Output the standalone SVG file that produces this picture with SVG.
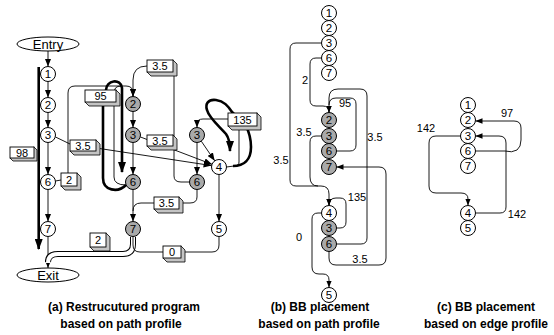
<svg xmlns="http://www.w3.org/2000/svg" width="554" height="335" viewBox="0 0 554 335">
<defs>
<marker id="ah" viewBox="0 0 8 6.5" refX="8" refY="3.25" markerWidth="8" markerHeight="6.5" markerUnits="userSpaceOnUse" orient="auto"><path d="M0,0 L8,3.25 L0,6.5 z" fill="#000"/></marker>
<marker id="ahs" viewBox="0 0 7 5.5" refX="7" refY="2.75" markerWidth="7" markerHeight="5.5" markerUnits="userSpaceOnUse" orient="auto"><path d="M0,0 L7,2.75 L0,5.5 z" fill="#000"/></marker>
<marker id="ahb" viewBox="0 0 11 8" refX="10" refY="4" markerWidth="11" markerHeight="8" markerUnits="userSpaceOnUse" orient="auto"><path d="M0,0 L11,4 L0,8 z" fill="#000"/></marker>
</defs>
<style>
text { font-family: "Liberation Sans", Arial, Helvetica, sans-serif; fill: #000; }
.lbl { font-size: 11px; text-anchor: middle; }
.cap { font-size: 12px; font-weight: bold; text-anchor: middle; }
.term ellipse { fill: #fff; stroke: #000; stroke-width: 1; }
.term text { font-size: 13px; text-anchor: middle; }
.nd circle { fill: #fff; stroke: #000; stroke-width: 1; }
.nd.gray circle { fill: #a9a9a9; }
.nd text { font-size: 11.5px; text-anchor: middle; }
.e { fill: none; stroke: #000; stroke-width: 0.9; }
.arr { marker-end: url(#ah); }
.arrs { marker-end: url(#ahs); }
.hot { fill: none; stroke: #000; stroke-width: 2.6; marker-end: url(#ahb); }
.dbl-out { fill: none; stroke: #000; stroke-width: 6; }
.dbl-in { fill: none; stroke: #fff; stroke-width: 4; }
.box .ext { fill: #c4c4c4; stroke: #000; stroke-width: 0.8; stroke-linejoin: round; }
.box .face { fill: #fff; stroke: #000; stroke-width: 0.9; }
.box text { font-size: 11px; text-anchor: middle; }
</style>

<rect width="554" height="335" fill="#fff"/>

<!-- ===== (a) restructured program: connectors ===== -->
<g id="a-edges">
  <path class="e arr" d="M48,51 L48,66.5"/>
  <path class="e arr" d="M48,81.5 L48,97.5"/>
  <path class="e arr" d="M48,112.5 L48,127.5"/>
  <path class="e arr" d="M48,142.5 L48,174.5"/>
  <path class="e arr" d="M48,189.5 L48,221.5"/>
  <path class="e arr" d="M48,236.5 L48,268"/>
  <!-- double edge 7 -> Exit -->
  <path class="dbl-out" d="M133,237 L133,244 Q133,254 123,254 L58,254 Q48,254 48,262"/>
  <path class="dbl-in" d="M133,236 L133,244 Q133,254 123,254 L58,254 Q48,254 48,263"/>
  <!-- gray column -->
  <path class="e arr" d="M133,111.5 L133,127.5"/>
  <path class="e arr" d="M133,142.5 L133,174.5"/>
  <path class="e arr" d="M133,189.5 L133,221.5"/>
  <path class="e arr" d="M197,142.5 L197,174.5"/>
  <path class="e arr" d="M219,174.5 L219,221.5"/>
  <!-- into node 4 -->
  <path class="e arr" d="M55.5,137 L70,144 L211.6,165.6"/>
  <path class="e arr" d="M140.5,137 L212,164.3"/>
  <path class="e arr" d="M201.3,141.2 L214.7,160.8"/>
  <!-- back edges into gray 2 -->
  <path class="e" d="M55.5,181 L61,180"/>
  <path class="e arr" d="M68,173 L68,93 Q68,86 75,86 L126,86 Q133,86 133,93 L133,96.5"/>
  <path class="e arr" d="M147,66 Q133,66 133,80 L133,96.5"/>
  <path class="e" d="M126,185 Q114,185 114,177 L114,93 Q114,86 121,86"/>
  <path class="e" d="M174,76 L174,176 Q174,182 181,182 L189.5,182"/>
  <!-- 135 loop -->
  <path class="e arr" d="M228,119 L203,119 Q197,119 197,124 L197,127.5"/>
  <path class="e" d="M239,130 L239,162 Q239,166 234,166 L226.5,167"/>
  <!-- lower edges -->
  <path class="e" d="M197,189.5 L197,197 Q197,203 190,203 L141,203 Q133,203 133,211"/>
  <path class="e" d="M219,236.5 L219,245 Q219,252 212,252 L140,252 Q133,252 133,245 L133,236.5"/>
  <!-- hot path traces -->
  <path class="hot" d="M106,90 C106,80 121,78 122,88 L122,172"/>
  <path class="hot" style="marker-end:none" d="M103,102 L103,178 C103,191 118,193 126,185"/>
  <path class="hot" d="M233,166 C244,166 251,160 251,147 C251,138 249,132 246,126 L232,112 C228,106 224,101 216,100 C208,99 205,104 207,110 C209,118 220,127 226,134 C229,138 230,143 230,151"/>
</g>

<!-- ===== (a) nodes ===== -->
<g id="a-entry" class="term"><ellipse cx="48" cy="44" rx="31" ry="7"/><text x="48" y="48.5">Entry</text></g>
<g id="a-exit" class="term"><ellipse cx="48" cy="275" rx="31" ry="7"/><text x="48" y="279.5">Exit</text></g>
<g id="a-n1" class="nd"><circle cx="48" cy="74" r="7.5"/><text x="48" y="78">1</text></g>
<g id="a-n2" class="nd"><circle cx="48" cy="105" r="7.5"/><text x="48" y="109">2</text></g>
<g id="a-n3" class="nd"><circle cx="48" cy="135" r="7.5"/><text x="48" y="139">3</text></g>
<g id="a-n6" class="nd"><circle cx="48" cy="182" r="7.5"/><text x="48" y="186">6</text></g>
<g id="a-n7" class="nd"><circle cx="48" cy="229" r="7.5"/><text x="48" y="233">7</text></g>
<g id="a-g2" class="nd gray"><circle cx="133" cy="104" r="7.5"/><text x="133" y="108">2</text></g>
<g id="a-g3" class="nd gray"><circle cx="133" cy="135" r="7.5"/><text x="133" y="139">3</text></g>
<g id="a-g6" class="nd gray"><circle cx="133" cy="182" r="7.5"/><text x="133" y="186">6</text></g>
<g id="a-g7" class="nd gray"><circle cx="133" cy="229" r="7.5"/><text x="133" y="233">7</text></g>
<g id="a-g3b" class="nd gray"><circle cx="197" cy="135" r="7.5"/><text x="197" y="139">3</text></g>
<g id="a-g6b" class="nd gray"><circle cx="197" cy="182" r="7.5"/><text x="197" y="186">6</text></g>
<g id="a-n4" class="nd"><circle cx="219" cy="167" r="7.5"/><text x="219" y="171">4</text></g>
<g id="a-n5" class="nd"><circle cx="219" cy="229" r="7.5"/><text x="219" y="233">5</text></g>

<!-- ===== (a) edge-count boxes ===== -->
<g id="box-98" class="box"><polygon class="ext" points="34,147 37,150 37,161 13,161 10,158"/><rect class="face" x="10" y="147" width="24" height="11"/><text x="22" y="156.5">98</text></g>
<g id="box-35a" class="box"><polygon class="ext" points="96,140 100,144 100,155 74,155 70,151"/><rect class="face" x="70" y="140" width="26" height="11"/><text x="83" y="149.5">3.5</text></g>
<g id="box-2a" class="box"><polygon class="ext" points="77,173 81,177 81,190 65,190 61,186"/><rect class="face" x="61" y="173" width="16" height="13"/><text x="69" y="183.5">2</text></g>
<g id="box-95" class="box"><polygon class="ext" points="116,90 120,94 120,106 89,106 85,102"/><rect class="face" x="85" y="90" width="31" height="12"/><text x="100.5" y="100">95</text></g>
<g id="box-35b" class="box"><polygon class="ext" points="173,60 177,64 177,76 151,76 147,72"/><rect class="face" x="147" y="60" width="26" height="12"/><text x="160" y="70">3.5</text></g>
<g id="box-35c" class="box"><polygon class="ext" points="173,135 177,139 177,150 151,150 147,146"/><rect class="face" x="147" y="135" width="26" height="11"/><text x="160" y="144.5">3.5</text></g>
<g id="box-135" class="box"><polygon class="ext" points="257,113 261,117 261,130 232,130 228,126"/><rect class="face" x="228" y="113" width="29" height="13"/><text x="242.5" y="123.5">135</text></g>
<g id="box-35d" class="box"><polygon class="ext" points="179,197 183,201 183,213 158,213 154,209"/><rect class="face" x="154" y="197" width="25" height="12"/><text x="166.5" y="207">3.5</text></g>
<g id="box-2b" class="box"><polygon class="ext" points="106,233 110,237 110,251 94,251 90,247"/><rect class="face" x="90" y="233" width="16" height="14"/><text x="98" y="244">2</text></g>
<g id="box-0" class="box"><polygon class="ext" points="181,246 185,250 185,262 167,262 163,258"/><rect class="face" x="163" y="246" width="18" height="12"/><text x="172" y="256">0</text></g>

<!-- main hot path 1-2-3-6-7-Exit -->
<path class="hot" d="M38.7,67 L38.7,249"/>

<!-- ===== (b) placement from path profile ===== -->
<g id="b-edges">
  <path class="e arrs" d="M321.5,43 L296,43 Q290,43 290,49 L290,180 Q290,186 296,186 L321,186 Q329,186 329,194 L329,205.5"/>
  <path class="e" d="M321.5,136 L316,136 Q310,136 310,142 L310,177 Q310,186 318,186"/>
  <path class="e arrs" d="M321.5,58 L316,58 Q310,58 310,64 L310,100 Q310,106 316,106 L323,106 Q329,106 329,112.5"/>
  <path class="e" d="M336.5,151 L350,151 Q356,151 356,145 L356,104 Q356,98 350,98 L336,98 Q329,98 329,105"/>
  <path class="e arrs" d="M336.5,244 L361,244 Q367,244 367,238 L367,96 Q367,89 360,89 L338,89 Q329,89 329,98 L329,112.5"/>
  <path class="e arrs" d="M336.5,228 L340,228 Q346,228 346,222 L346,204 Q346,198 340,198 L336,198 Q329,198 329,205.5"/>
  <path class="e arrs" d="M329,251.5 L329,258 Q329,265 336,265 L379,265 Q386,265 386,258 L386,174 Q386,167 379,167 L336.5,167"/>
  <path class="e arrs" d="M321.5,213 L318,213 Q312,213 312,219 L312,267 Q312,274 319,274 L323,274 Q329,274 329,280 L329,287.5"/>
</g>
<g id="b-n1" class="nd"><circle cx="329" cy="13" r="7.5"/><text x="329" y="17">1</text></g>
<g id="b-n2" class="nd"><circle cx="329" cy="28" r="7.5"/><text x="329" y="32">2</text></g>
<g id="b-n3" class="nd"><circle cx="329" cy="43" r="7.5"/><text x="329" y="47">3</text></g>
<g id="b-n6" class="nd"><circle cx="329" cy="58" r="7.5"/><text x="329" y="62">6</text></g>
<g id="b-n7" class="nd"><circle cx="329" cy="73" r="7.5"/><text x="329" y="77">7</text></g>
<g id="b-g2" class="nd gray"><circle cx="329" cy="120" r="7.5"/><text x="329" y="124">2</text></g>
<g id="b-g3" class="nd gray"><circle cx="329" cy="136" r="7.5"/><text x="329" y="140">3</text></g>
<g id="b-g6" class="nd gray"><circle cx="329" cy="151" r="7.5"/><text x="329" y="155">6</text></g>
<g id="b-g7" class="nd gray"><circle cx="329" cy="167" r="7.5"/><text x="329" y="171">7</text></g>
<g id="b-n4" class="nd"><circle cx="329" cy="213" r="7.5"/><text x="329" y="217">4</text></g>
<g id="b-g3b" class="nd gray"><circle cx="329" cy="228" r="7.5"/><text x="329" y="232">3</text></g>
<g id="b-g6b" class="nd gray"><circle cx="329" cy="244" r="7.5"/><text x="329" y="248">6</text></g>
<g id="b-n5" class="nd"><circle cx="329" cy="295" r="7.5"/><text x="329" y="299">5</text></g>
<g id="b-labels">
  <text class="lbl" x="305" y="84">2</text>
  <text class="lbl" x="345" y="107">95</text>
  <text class="lbl" x="281" y="164">3.5</text>
  <text class="lbl" x="304" y="136">3.5</text>
  <text class="lbl" x="375" y="141">3.5</text>
  <text class="lbl" x="357" y="201">135</text>
  <text class="lbl" x="299" y="241">0</text>
  <text class="lbl" x="360" y="263">3.5</text>
</g>

<!-- ===== (c) placement from edge profile ===== -->
<g id="c-edges">
  <path class="e arrs" d="M475.5,151 L505,151 Q512,153 517,150 Q521,147 521,140 L521,128 Q521,121 514,121 L475.5,121"/>
  <path class="e arrs" d="M460.5,136 L436,136 Q429,136 429,143 L429,186 Q429,193 436,193 L461,193 Q468,193 468,199 L468,205.5"/>
  <path class="e arrs" d="M475.5,213 L500,213 Q506,213 506,207 L506,143 Q506,136 499,136 L475.5,136"/>
</g>
<g id="c-n1" class="nd"><circle cx="468" cy="105" r="7.5"/><text x="468" y="109">1</text></g>
<g id="c-n2" class="nd"><circle cx="468" cy="120" r="7.5"/><text x="468" y="124">2</text></g>
<g id="c-n3" class="nd"><circle cx="468" cy="136" r="7.5"/><text x="468" y="140">3</text></g>
<g id="c-n6" class="nd"><circle cx="468" cy="151" r="7.5"/><text x="468" y="155">6</text></g>
<g id="c-n7" class="nd"><circle cx="468" cy="166" r="7.5"/><text x="468" y="170">7</text></g>
<g id="c-n4" class="nd"><circle cx="468" cy="213" r="7.5"/><text x="468" y="217">4</text></g>
<g id="c-n5" class="nd"><circle cx="468" cy="228" r="7.5"/><text x="468" y="232">5</text></g>
<g id="c-labels">
  <text class="lbl" x="507" y="117">97</text>
  <text class="lbl" x="426" y="132">142</text>
  <text class="lbl" x="517" y="218">142</text>
</g>

<!-- ===== captions ===== -->
<g id="captions">
  <text class="cap" x="124" y="311">(a) Restrucutured program</text>
  <text class="cap" x="121" y="328">based on path profile</text>
  <text class="cap" x="320" y="311">(b) BB placement</text>
  <text class="cap" x="319" y="328">based on path profile</text>
  <text class="cap" x="486" y="311">(c) BB placement</text>
  <text class="cap" x="486" y="328">based on edge profile</text>
</g>
</svg>
